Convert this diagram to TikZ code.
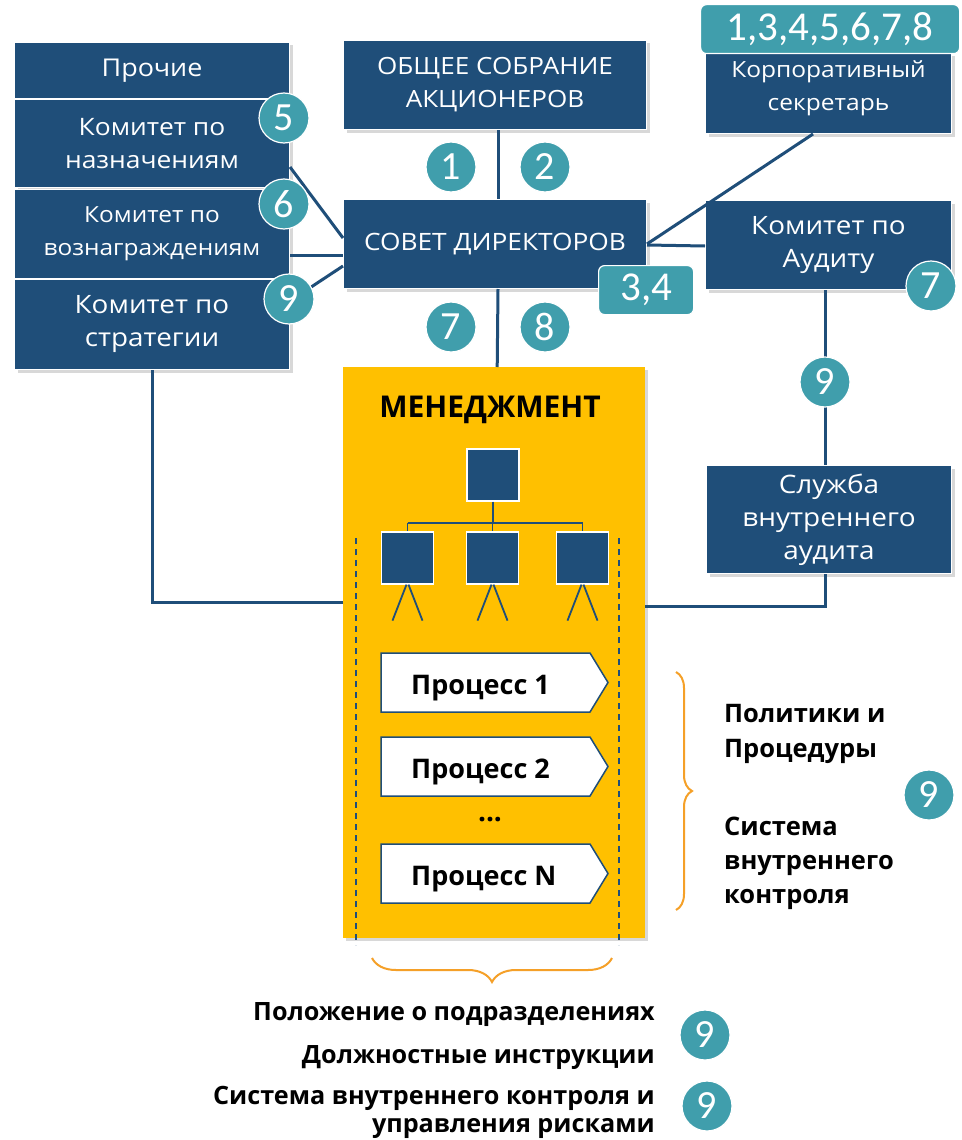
\documentclass[tikz,border=0pt]{standalone}
\usepackage{fontspec}
\setmainfont{Open Sans}[FakeStretch=1.1]
\newfontfamily\hdfont{Open Sans}
\newfontfamily\numfont{Carlito}
\usetikzlibrary{shadows,decorations.pathreplacing,calc}
\definecolor{dkblue}{RGB}{31,78,121}
\definecolor{tealc}{RGB}{64,158,172}
\definecolor{goldc}{RGB}{255,192,0}
\definecolor{brc}{RGB}{245,160,40}
\tikzset{
  box/.style={draw=white, line width=1pt, fill=dkblue, text=white, align=center,
    inner sep=0pt, anchor=north west,
    drop shadow={shadow xshift=3pt, shadow yshift=-3pt, opacity=0.3}},
  num/.style={circle, fill=tealc, draw=white, line width=1.2pt, text=white,
    minimum size=50pt, inner sep=0pt, font=\numfont\fontsize{40}{40}\selectfont},
  tagbox/.style={rounded corners=6pt, fill=tealc, draw=white, line width=1.2pt, text=white,
    inner sep=0pt, anchor=north west, font=\numfont\fontsize{41}{41}\selectfont},
  conn/.style={draw=dkblue, line width=3pt},
  tline/.style={draw=dkblue, line width=1.8pt},
  sq/.style={fill=dkblue, draw=white, line width=1.2pt, minimum size=52pt, inner sep=0pt},
  proc/.style={fill=white, draw=dkblue, line width=1.5pt},
  fs/.style={font=\fontsize{#1}{33}\selectfont},
  bt/.style={font=\hdfont\bfseries\fontsize{#1}{#1}\selectfont, text=black, inner sep=0pt},
  brace/.style={draw=brc, line width=2pt, decorate},
}
\begin{document}
\begin{tikzpicture}[x=1pt,y=-1pt]
\useasboundingbox[fill=white] (0,0) rectangle (961,1140);

% left column
\node[box, fs=24.5, minimum width=275, minimum height=56] (pro) at (14,42) {Прочие};
\node[box, fs=24, minimum width=275, minimum height=88] (naz) at (14,99) {Комитет по\\назначениям};
\node[box, fs=22.2, minimum width=275, minimum height=89] (voz) at (14,189) {Комитет по\\вознаграждениям};
\node[box, fs=25.3, minimum width=275, minimum height=90] (str) at (14,279) {Комитет по\\стратегии};

% centre
\node[box, fs=23.7, minimum width=303, minimum height=89] (obs) at (343,40) {ОБЩЕЕ СОБРАНИЕ\\АКЦИОНЕРОВ};
\node[box, fs=23.9, minimum width=303, minimum height=89] (sov) at (343,199) {СОВЕТ ДИРЕКТОРОВ};

% right
\node[box, minimum width=246, minimum height=80] (sec) at (705,53) {};
\node[fs=22.3, text=white, align=center, inner sep=0pt] (sect) at ($(sec.center)+(0,-5)$) {Корпоративный\\секретарь};
\node[box, fs=25.3, minimum width=246, minimum height=89] (aud) at (705,200) {Комитет по\\Аудиту};
\node[box, fs=25.4, minimum width=245, minimum height=108] (slz) at (706,465) {Служба\\внутреннего\\аудита};

% management block
\node[fill=goldc, anchor=north west, minimum width=302, minimum height=571, inner sep=0pt,
  drop shadow={shadow xshift=3pt, shadow yshift=-3pt, opacity=0.3}] (man) at (343,367) {};

% connectors
\draw[conn] ($(obs.south)+(3,0)$) -- ($(sov.north)+(3,0)$);
\draw[conn] ($(sov.south)+(3,0)$) -- ($(man.north)+(3,0)$);
\draw[conn] ($(naz.north east)+(0,68)$) -- ($(sov.north west)+(0,39)$);
\draw[conn] ($(voz.north east)+(0,66)$) -- ($(sov.north west)+(0,56)$);
\draw[conn] ($(str.north east)+(0,22)$) -- ($(sov.north west)+(0,67)$);
\draw[conn] ($(sov.north east)+(0,45)$) -- ($(sec.south west)+(108,0)$);
\draw[conn] ($(sov.north east)+(0,46)$) -- ($(aud.north west)+(0,46)$);
\draw[conn] ($(aud.south west)+(120,0)$) -- ($(slz.north west)+(119,0)$);
\draw[conn] ($(str.south west)+(138,0)$) |- ($(man.north west)+(0,235)$);
\draw[conn] ($(man.north east)+(0,239)$) -| ($(slz.south west)+(119,0)$);

% management content
\node[bt=30] (mt) at (490,410) {МЕНЕДЖМЕНТ};
\node[sq] (q0) at (493,475) {};
\node[sq] (q1) at (407.5,558) {};
\node[sq] (q2) at (492.5,558) {};
\node[sq] (q3) at (582.5,558) {};
\draw[tline] (q0.south) -- ++(0,21) coordinate (br);
\draw[tline] (q1.north |- br) -- (q3.north |- br);
\draw[tline] (q1.north |- br) -- (q1.north);
\draw[tline] (q2.north |- br) -- (q2.north);
\draw[tline] (q3.north |- br) -- (q3.north);
\foreach \q in {q1,q2,q3}{
  \draw[tline] ($(\q.south)+(-1,0)$) -- ++(-14,36);
  \draw[tline] ($(\q.south)+(1,0)$) -- ++(14,36);
}
\draw[dkblue, line width=1.3pt, dash pattern=on 6pt off 5pt] (356,538) coordinate (d1) -- (356,945) coordinate (d2);
\draw[dkblue, line width=1.3pt, dash pattern=on 6pt off 5pt] (619,538) coordinate (d3) -- (619,945) coordinate (d4);

\foreach \y/\t/\n in {653/Процесс 1/p1, 737/Процесс 2/p2, 844/Процесс N/pn}{
  \draw[proc] (381,\y) coordinate (\n a) -- (590,\y) -- (608,\y+29.5) -- (590,\y+59) -- (381,\y+59) -- cycle;
  \node[bt=27, anchor=base west] (\n) at (411,\y+41) {\t};
}
\node[bt=28] (dots) at (490,820) {...};

% braces
\draw[brace, decoration={brace, amplitude=16pt}] (676,672) coordinate (rb1) -- (676,910) coordinate (rb2);
\draw[brace, decoration={brace, amplitude=24pt}] (612,958) coordinate (bb1) -- (372,958) coordinate (bb2);

% right texts
\node[bt=25.5, anchor=base west] (r1) at (724,722) {Политики и};
\node[bt=25.5, anchor=base west] (r2) at (724,757) {Процедуры};
\node[bt=25.5, anchor=base west] (r3) at (724,835) {Система};
\node[bt=25.5, anchor=base west] (r4) at (724,869) {внутреннего};
\node[bt=25.5, anchor=base west] (r5) at (724,903) {контроля};

% bottom texts
\node[bt=25.2, anchor=base east] (b1) at (655,1020) {Положение о подразделениях};
\node[bt=25.2, anchor=base east] (b2) at (655,1063) {Должностные инструкции};
\node[bt=25.2, anchor=base east] (b3) at (655,1104) {Система внутреннего контроля и};
\node[bt=25.2, anchor=base east] (b4) at (655,1132) {управления рисками};

% number circles
\node[num] (c5) at (284,118) {5};
\node[num] (c6) at (284,204) {6};
\node[num] (c9a) at (289,299) {9};
\node[num] (c1) at (451,167) {1};
\node[num] (c2) at (545,167) {2};
\node[num] (c7a) at (451,327) {7};
\node[num] (c8) at (545,327) {8};
\node[num] (c7b) at (931,286) {7};
\node[num] (c9b) at (825,382) {9};
\node[num] (c9c) at (929,795) {9};
\node[num] (c9d) at (705,1035) {9};
\node[num] (c9e) at (707,1106) {9};

% tags
\node[tagbox, minimum width=259, minimum height=49] (t1) at (700,4) {1,3,4,5,6,7,8};
\node[tagbox, minimum width=95, minimum height=49] (t2) at (598,265) {3,4};
\end{tikzpicture}
\end{document}
